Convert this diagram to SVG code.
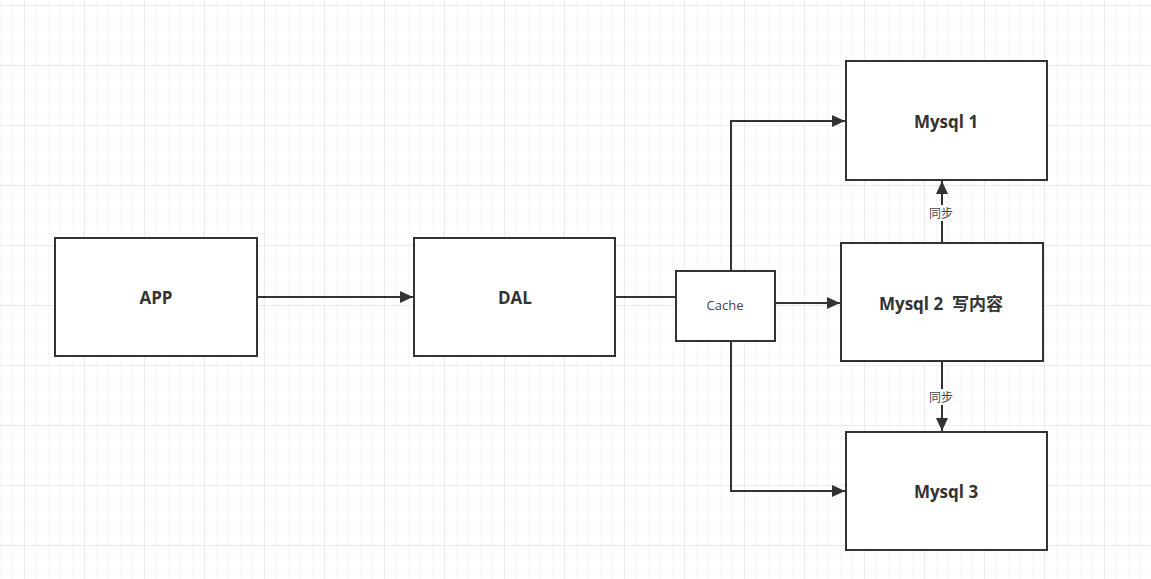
<svg xmlns="http://www.w3.org/2000/svg" width="1151" height="579" viewBox="0 0 1151 579">
<style>
.box{fill:#fff;stroke:#333;stroke-width:2}
.lbl{font-family:"Open Sans","Noto Sans CJK SC",sans-serif;font-weight:bold;font-size:17px;fill:#333;text-anchor:middle;dominant-baseline:central}
.small{font-family:"Open Sans","Noto Sans CJK SC",sans-serif;font-size:12px;fill:#444;text-anchor:middle;dominant-baseline:central}
.edge{fill:none;stroke:#333;stroke-width:2}
</style>
<defs>
<pattern id="minor" width="12" height="12" patternUnits="userSpaceOnUse" x="24" y="5">
<path d="M0 0H12M0 0V12" fill="none" stroke="#f1f1f1" stroke-width="1"/>
</pattern>
<pattern id="major" width="60" height="60" patternUnits="userSpaceOnUse" x="24" y="5">
<path d="M0 0H60M0 0V60" fill="none" stroke="#e0e0e0" stroke-width="1"/>
</pattern>
<marker id="arrv" markerWidth="14" markerHeight="12" refX="13" refY="6" orient="auto" markerUnits="userSpaceOnUse">
<path d="M0 0L13 6L0 12Z" fill="#333"/>
</marker>
</defs>
<rect width="1151" height="579" fill="#fff"/>
<rect width="1151" height="579" fill="url(#minor)"/>
<rect width="1151" height="579" fill="url(#major)"/>
<g id="connectors">
<path class="edge" d="M257 297H413" marker-end="url(#arrv)"/>
<path class="edge" d="M615 297H676"/>
<path class="edge" d="M731 271V121H845" marker-end="url(#arrv)"/>
<path class="edge" d="M731 341V491H845" marker-end="url(#arrv)"/>
<path class="edge" d="M775 303H840" marker-end="url(#arrv)"/>
<path class="edge" d="M942 243V181" marker-end="url(#arrv)"/>
<path class="edge" d="M942 361V431" marker-end="url(#arrv)"/>
<rect x="926" y="205" width="30" height="16" fill="#fff"/>
<text class="small" x="941" y="213">同步</text>
<rect x="926" y="389" width="30" height="16" fill="#fff"/>
<text class="small" x="941" y="397">同步</text>
</g>
<g id="app"><rect class="box" x="55" y="238" width="202" height="118"/><text class="lbl" x="156" y="297">APP</text></g>
<g id="dal"><rect class="box" x="414" y="238" width="201" height="118"/><text class="lbl" x="515" y="297">DAL</text></g>
<g id="cache"><rect class="box" x="676" y="271" width="99" height="70"/><text class="small" x="725" y="305" style="font-size:13px">Cache</text></g>
<g id="mysql1"><rect class="box" x="846" y="61" width="201" height="119"/><text class="lbl" x="946" y="121">Mysql 1</text></g>
<g id="mysql2"><rect class="box" x="841" y="243" width="202" height="118"/><text class="lbl" x="941" y="303" xml:space="preserve">Mysql 2  写内容</text></g>
<g id="mysql3"><rect class="box" x="846" y="432" width="201" height="118"/><text class="lbl" x="946" y="491">Mysql 3</text></g>
</svg>
